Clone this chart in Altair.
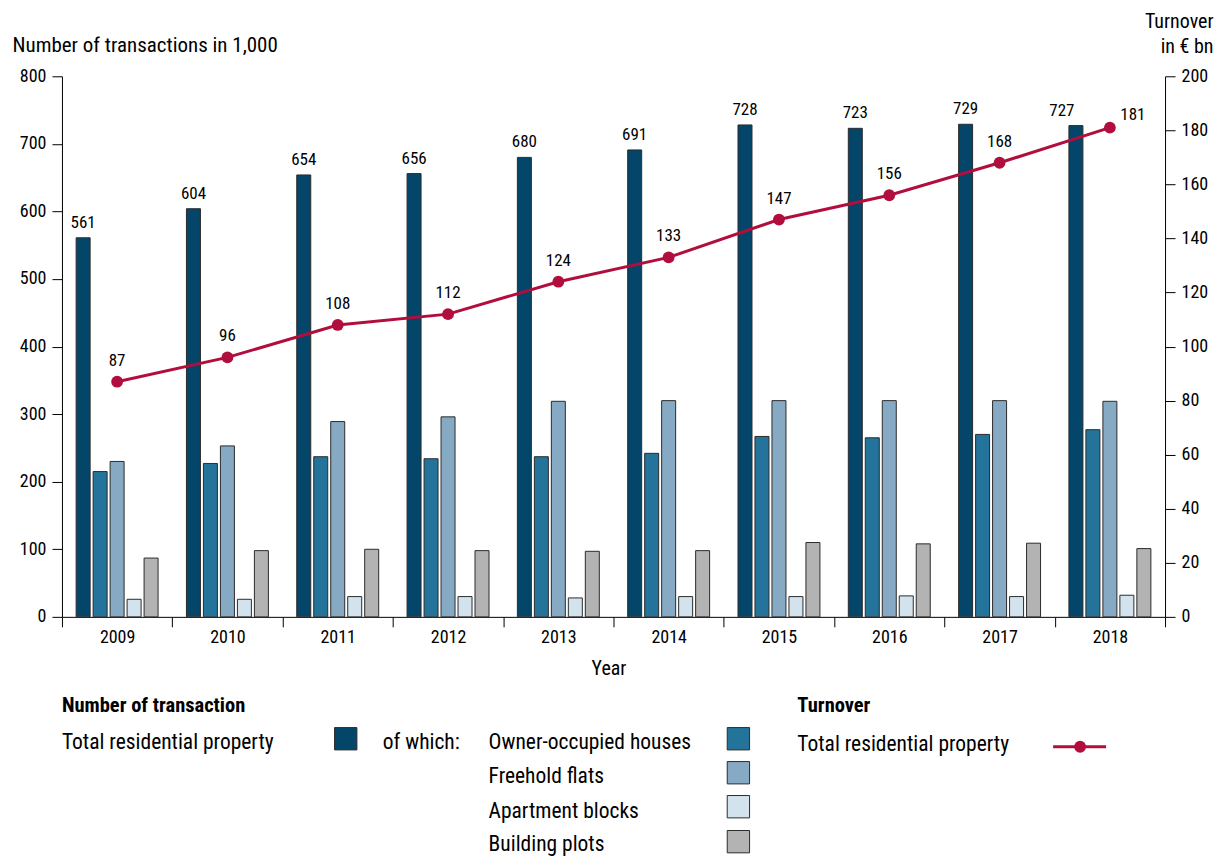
import altair as alt
import pandas as pd

years = ["2009", "2010", "2011", "2012", "2013", "2014", "2015", "2016", "2017", "2018"]
total = [561, 604, 654, 656, 680, 691, 728, 723, 729, 727]
owner = [215, 227, 237, 234, 237, 242, 267, 265, 270, 277]
flats = [230, 253, 289, 296, 319, 320, 320, 320, 320, 319]
apt = [26, 26, 30, 30, 28, 30, 30, 31, 30, 32]
plots = [87, 98, 100, 98, 97, 98, 110, 108, 109, 101]
turnover = [87, 96, 108, 112, 124, 133, 147, 156, 168, 181]

series_names = ["Total residential property", "Owner-occupied houses", "Freehold flats",
                "Apartment blocks", "Building plots"]
series_colors = ["#03466a", "#23739b", "#86a9c4", "#d3e3ee", "#b3b3b3"]
line_color = "#b10e3e"

FONT = "Liberation Sans Narrow, Roboto Condensed, DejaVu Sans Condensed, Arial Narrow, sans-serif"

rows = []
for name, vals in zip(series_names, [total, owner, flats, apt, plots]):
    for yr, v in zip(years, vals):
        rows.append({"year": yr, "series": name, "value": v})
bars_df = pd.DataFrame(rows)
line_df = pd.DataFrame({"year": years, "turnover": turnover})

x_enc = alt.X("year:N", scale=alt.Scale(paddingInner=0, paddingOuter=0),
              axis=alt.Axis(title="Year", tickBand="extent", labelAngle=0, labelPadding=2,
                            titleY=58, titleBaseline="alphabetic", titleX=547))
xoff = alt.XOffset("series:N", scale=alt.Scale(domain=series_names, paddingInner=0.176, paddingOuter=0.835))
yL = alt.Y("value:Q", scale=alt.Scale(domain=[0, 800], nice=False),
           axis=alt.Axis(orient="left", values=list(range(0, 801, 100)),
                         title="Number of transactions in 1,000", titleAngle=0, titleX=-50, titleY=-25,
                         titleAlign="left", titleBaseline="alphabetic", labelPadding=6,
                         titleFontSize=21))
yR = alt.Y("turnover:Q", scale=alt.Scale(domain=[0, 200], nice=False),
           axis=alt.Axis(orient="right", values=list(range(0, 201, 20)),
                         title=["Turnover", "in € bn"], titleAngle=0, titleX=48, titleY=-49,
                         titleAlign="right", titleBaseline="alphabetic", titleLineHeight=25,
                         labelPadding=6))

base = alt.Chart(bars_df)
bars = base.mark_bar(stroke="#2b2b2b", strokeWidth=1).encode(
    x=x_enc, xOffset=xoff, y=yL,
    color=alt.Color("series:N", scale=alt.Scale(domain=series_names, range=series_colors), legend=None),
)
tot = base.transform_filter(alt.datum.series == series_names[0])
tot_labels = tot.transform_filter(alt.datum.year != "2018").mark_text(
    dy=-10, baseline="alphabetic", fontSize=17, font=FONT, color="black").encode(
    x=x_enc, xOffset=xoff, y=yL, text="value:Q")
tot_label_last = tot.transform_filter(alt.datum.year == "2018").mark_text(
    dy=-10, dx=-14, baseline="alphabetic", fontSize=17, font=FONT, color="black").encode(
    x=x_enc, xOffset=xoff, y=yL, text="value:Q")
left = alt.layer(bars, tot_labels, tot_label_last)

lbase = alt.Chart(line_df)
line = lbase.mark_line(color=line_color, strokeWidth=3).encode(x=x_enc, y=yR)
pts = lbase.mark_circle(color=line_color, size=140, opacity=1).encode(x=x_enc, y=yR)
line_labels = lbase.transform_filter(alt.datum.year != "2018").mark_text(
    dy=-21, baseline="middle", fontSize=17, font=FONT, color="black").encode(
    x=x_enc, y=yR, text="turnover:Q")
line_label_last = lbase.transform_filter(alt.datum.year == "2018").mark_text(
    dy=-13, dx=23, baseline="middle", fontSize=17, font=FONT, color="black").encode(
    x=x_enc, y=yR, text="turnover:Q")
right = alt.layer(line, pts, line_labels, line_label_last)

one = alt.Data(values=[{"k": 1}])


def ltext(txt, x, y, bold=False, size=21.5):
    return alt.Chart(one).mark_text(
        text=txt, align="left", baseline="alphabetic", fontSize=size,
        fontWeight="bold" if bold else "normal", font=FONT, color="black"
    ).encode(x=alt.value(x), y=alt.value(y))


def lsquare(color, x, y):
    return alt.Chart(one).mark_point(
        shape="square", filled=True, size=500, fill=color, stroke="#2b2b2b", strokeWidth=1, opacity=1
    ).encode(x=alt.value(x), y=alt.value(y))


legend_layers = [
    ltext("Number of transaction", 0, 636, bold=True, size=20.5),
    ltext(series_names[0], 0, 673),
    lsquare(series_colors[0], 284, 663),
    ltext("of which:", 321, 673),
    ltext("Turnover", 736, 636, bold=True, size=20.5),
    ltext("Total residential property", 736, 675),
    alt.Chart(one).mark_rule(color=line_color, strokeWidth=3).encode(
        x=alt.value(992), x2=alt.value(1045), y=alt.value(671)),
    alt.Chart(one).mark_circle(color=line_color, size=140, opacity=1).encode(
        x=alt.value(1019), y=alt.value(671)),
]
row_y = [673, 707, 742, 775]
sq_y = [663, 697, 731, 766]
for i in range(1, 5):
    legend_layers.append(ltext(series_names[i], 427, row_y[i - 1]))
    legend_layers.append(lsquare(series_colors[i], 677, sq_y[i - 1]))

chart = alt.layer(left, right, *legend_layers).resolve_scale(y="independent").properties(
    width=1104, height=541, padding={"left": 4, "top": 3, "right": 5, "bottom": 5}
).configure_view(stroke=None).configure_axis(
    domainColor="black", tickColor="black", labelColor="black", titleColor="black",
    labelFont=FONT, titleFont=FONT, labelFontSize=18, titleFontSize=20, titleFontWeight="normal",
    grid=False, tickSize=10, domainWidth=1, tickWidth=1
)

chart.save("out.html", embed_options={"renderer": "svg", "actions": False})
